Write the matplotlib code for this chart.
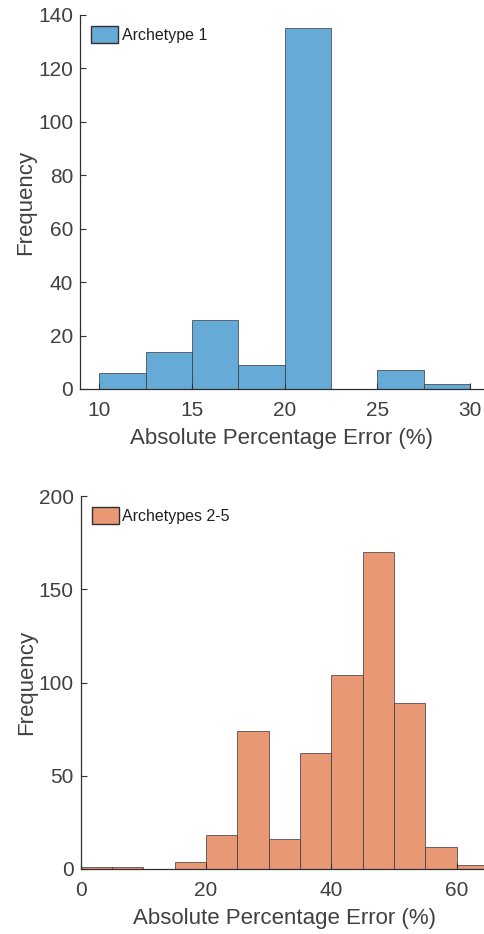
import numpy as np
import matplotlib
matplotlib.use('Agg')
from matplotlib import pyplot as plt

# Archetype 1 histogram (bin edges + counts)
edges1 = [10, 12.5, 15, 17.5, 20, 22.5, 25, 27.5, 30]
counts1 = [6, 14, 26, 9, 135, 0, 7, 2]
ticks1 = [10, 15, 20, 25, 30]
yticks1 = [0, 20, 40, 60, 80, 100, 120, 140]

# Archetypes 2-5 histogram
edges2 = [0, 5, 10, 15, 20, 25, 30, 35, 40, 45, 50, 55, 60, 65]
counts2 = [1, 1, 0, 4, 18, 74, 16, 62, 104, 170, 89, 12, 2]
ticks2 = [0, 20, 40, 60]
yticks2 = [0, 50, 100, 150, 200]

blue = '#66AAD7'
orange = '#E89875'
txt = '#404040'

plt.rcParams['font.family'] = ['Liberation Sans', 'DejaVu Sans']

fig = plt.figure(figsize=(4.84, 9.34), dpi=100)
W, H = 484.0, 934.0

def add_ax(left, top, right, bottom):
    return fig.add_axes([left / W, 1 - bottom / H, (right - left) / W, (bottom - top) / H])

ax1 = add_ax(80, 15, 484, 389)
ax2 = add_ax(80.5, 496, 488, 869)

def draw(ax, edges, counts, color, label, xlim, ylim, xt, yt):
    e = np.array(edges, dtype=float)
    ax.bar(e[:-1], counts, width=np.diff(e), align='edge', color=color,
           edgecolor=(0.2, 0.2, 0.2, 0.7), linewidth=0.7, label=label)
    ax.set_xlim(*xlim)
    ax.set_ylim(*ylim)
    ax.set_xticks(xt)
    ax.set_yticks(yt)
    for s in ['top', 'right']:
        ax.spines[s].set_visible(False)
    for s in ['left', 'bottom']:
        ax.spines[s].set_color('#303030')
        ax.spines[s].set_linewidth(0.9)
    ax.tick_params(direction='in', length=4, width=0.8, colors='#303030',
                   labelcolor=txt, labelsize=15)
    ax.tick_params(axis='x', pad=8.5)
    ax.tick_params(axis='y', pad=5)
    ax.set_xlabel('Absolute Percentage Error (%)', fontsize=16, color=txt, labelpad=6)
    ax.set_ylabel('Frequency', fontsize=16, color=txt, labelpad=1)
    leg = ax.legend(loc='upper left', frameon=False, fontsize=11.5,
                    handlelength=1.7, handleheight=1.2, handletextpad=0.2,
                    borderaxespad=0.3, bbox_to_anchor=(0.0, 1.0))
    for t in leg.get_texts():
        t.set_color('#202020')
    for p in leg.get_patches():
        p.set_edgecolor('#303030')
        p.set_linewidth(1.0)

draw(ax1, edges1, counts1, blue, 'Archetype 1', (8.95, 30.75), (0, 140), ticks1, yticks1)
draw(ax2, edges2, counts2, orange, 'Archetypes 2-5', (0, 65), (0, 200), ticks2, yticks2)

fig.savefig('out.png', dpi=100)
